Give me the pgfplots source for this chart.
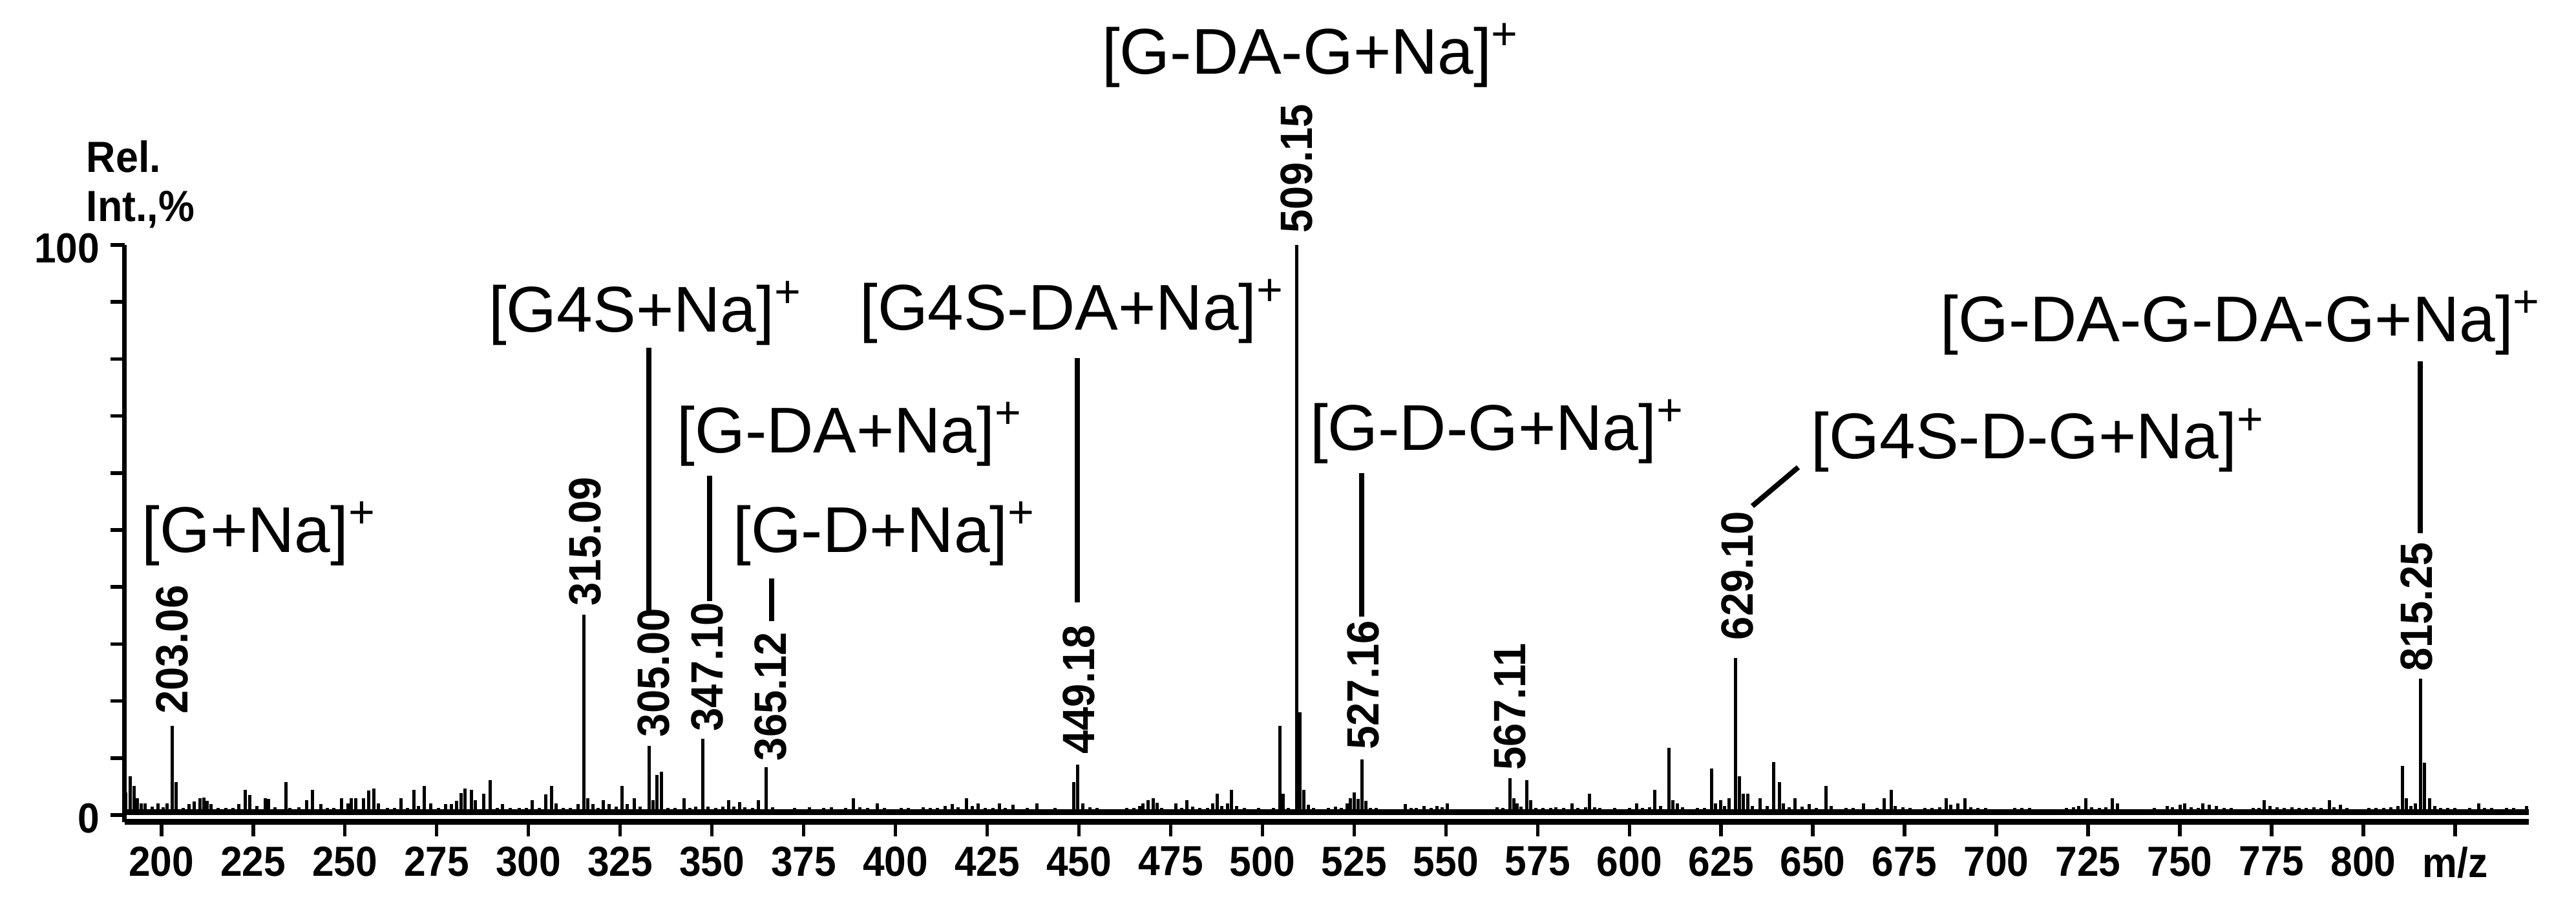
\documentclass[border=0pt]{standalone}
\usepackage{fontspec}
\setmainfont{Liberation Sans}
\newfontfamily\tickfont[FakeStretch=0.93]{Liberation Sans}
\usepackage{pgfplots}
\usepackage{pgfplotstable}
\pgfplotsset{compat=1.18}
\pgfplotstableread{
mz h
190.3 4.0
191.5 6.8
192.6 5.1
193.5 2.9
194.5 2.0
195.5 2.0
197.5 1.5
199 2.0
200.5 1.4
201.5 2.0
202.9 15.7
204 5.8
206 1.3
207.5 1.9
209 2.4
210.5 2.9
211.5 3.1
212.5 2.5
213.5 1.9
215.5 1.2
217.5 1.2
219.5 1.3
221 1.9
222.9 4.4
224 3.5
226 1.6
228.3 2.9
229.2 2.8
231 1.4
233.9 5.8
235 1.3
237.5 1.4
239.6 2.6
241.2 4.4
243.4 1.9
245.2 1.3
247 1.2
249.1 2.9
250.8 2.0
251.8 2.9
253 2.9
255 2.9
256.4 4.3
257.8 4.7
259.2 2.0
261.5 1.2
263.5 1.2
265.2 2.9
267 1.3
268.8 4.4
270 1.6
271.6 5.1
273.3 2.0
275.5 1.2
277.5 1.9
279 1.9
280.5 2.5
281.7 3.9
282.8 4.7
284.5 4.4
285.6 2.6
287.9 3.7
289.6 6.1
291.5 1.3
293 1.9
295 1.2
297.5 1.2
299.5 1.2
301.1 2.6
303 1.2
304.7 3.6
306.4 5.1
307.5 2.0
309.5 1.2
311.5 1.2
313.5 1.9
315.2 35.2
316.2 2.9
317.5 1.9
319 1.3
320.4 2.6
322 1.9
324 1.5
325.5 5.1
327 1.9
328.9 2.9
330.5 1.5
332.9 12.1
334 2.6
335.1 7.0
336.2 7.6
338 1.3
340 1.2
342.4 2.9
344 1.3
345.5 1.5
347.5 13.4
349 1.5
351 1.2
353 1.5
354.5 2.6
356 1.5
357.5 2.3
359 1.4
361 1.2
362.7 2.6
364.8 8.4
366.5 1.4
368.5 1.0
370.5 1.0
372.5 1.2
374.5 1.0
376.5 1.4
378.5 1.0
380.5 1.2
382.5 1.4
384.5 1.0
386.5 1.3
388.6 2.9
390.3 1.4
392.5 1.2
395 2.0
397 1.2
399.5 1.0
401.5 1.2
403.5 1.3
405.5 1.0
407.5 1.4
409.5 1.2
411.5 1.3
413.5 1.6
415.5 1.9
417 1.4
419.3 2.9
421 1.6
422.5 2.0
424.5 1.2
426.5 1.3
428.3 2.0
430 1.2
432 1.8
434 1.0
436 1.2
438.5 2.0
441 1.0
443.5 1.2
446 1.0
448.6 5.8
449.6 8.8
451 2.0
453 1.4
455 1.2
457 0.8
459 1.0
461 1.0
463 1.2
465 1.2
466.5 1.6
467.5 2.0
468.9 2.6
470.3 2.9
471.3 2.2
472.5 1.3
474.5 1.0
476.5 2.0
478 1.2
479.5 2.6
481 1.5
483 1.2
485 1.3
486.5 2.0
487.7 3.7
489 1.6
490.5 2.0
491.6 4.4
493 1.6
495 1.3
497 1.0
499 1.2
501 1.0
503 1.2
504.8 15.6
505.7 3.7
507 1.3
509.3 100
510.2 18
511.2 4.4
512.5 1.8
514 1.2
516 1.0
518 1.2
520 1.5
521.5 1.3
523 2.0
524 2.9
525 4.0
526.1 2.8
527.2 9.7
528.2 2.5
529.5 1.3
531 1.2
533 1.0
535 1.0
537 1.0
539 1.9
540.5 1.2
542 1.2
544 1.6
546 1.2
547.5 1.6
549 1.4
550.4 2.0
552 1.0
554 0.9
556 1.0
558 1.0
560 1.0
562 1.0
564 1.4
565.5 1.2
567.5 6.5
568.5 2.9
569.4 2.0
570.5 1.5
572 6.1
573.1 2.6
574.5 1.3
576.5 1.2
578.5 1.3
580 1.4
582 1.3
584.4 2.0
586 1.2
588 1.4
589.1 3.7
590.5 1.4
592 1.2
594 1.0
596 1.2
598 1.0
600 1.3
602 2.0
603.5 1.2
605.5 1.4
606.9 4.4
608.5 1.6
610.8 11.8
611.9 2.6
613 2.0
614.5 1.4
616.5 1.0
618.5 1.2
620.5 1.3
622.4 8.2
623.5 2.0
624.9 2.6
626 1.6
627.1 2.9
628.9 27.5
630 6.8
631.1 3.7
632.2 3.7
633.5 1.6
635.6 2.9
637.5 1.6
639.3 9.3
640.9 5.8
642 2.0
643.5 1.4
645.1 2.9
647 1.5
649 1.9
651 1.2
653.6 5.1
655 1.6
657 1.0
659 1.2
661 1.2
663.7 2.0
665.5 1.0
667.5 1.2
669.5 2.9
671.3 4.4
672.5 1.6
674.5 1.4
676.5 1.2
678.5 1.0
680.5 1.3
682.5 1.3
684.5 1.4
686.3 2.9
687.5 1.8
689.5 2.0
691.4 2.9
693 1.4
695 1.2
697 1.2
699 1.0
701 1.0
703 1.0
705 1.2
707 1.3
709 1.2
711 1.0
713 1.0
715 0.8
717 1.0
719 1.2
721 1.4
722.5 1.6
724.4 2.9
726 1.4
728 1.2
729.8 1.4
731.5 2.9
733 2.0
735 1.0
737 1.0
739 1.0
741 1.0
743 1.2
745 1.0
746.5 1.6
748 1.4
750 1.8
751.3 2.0
753 1.4
755 1.2
756.3 2.0
758 1.8
760 1.6
762 1.3
764 1.2
766 1.0
768 1.0
770 1.2
771.5 1.2
773 2.6
774.5 1.6
776.5 1.4
778.5 1.2
780.5 1.4
782.5 1.3
784.5 1.3
786.5 1.4
788.5 1.2
790.8 2.6
792 1.4
793.8 1.8
795.5 1.2
797.5 1.0
799.5 1.0
801.5 1.2
803.5 1.2
805.5 1.3
807.5 1.4
809.5 1.6
810.6 8.6
811.7 2.9
813 1.6
814.2 2.0
815.5 23.9
816.6 9.2
818 2.9
819.5 1.6
821 1.3
823 1.2
825 1.3
827 1.0
829 1.3
831.5 2.0
833 1.2
835 1.2
837 1.0
839 1.2
841 1.3
843 1.0
844.5 1.6
}\spectrum
\begin{document}
\begin{tikzpicture}
\useasboundingbox (-38.6pt,-24.3pt) rectangle (758.6pt,254.3pt);
\begin{axis}[
  at={(0pt,0pt)}, anchor=south west,
  scale only axis, width=743.9pt, height=178.5pt,
  xmin=190, xmax=845, ymin=-1.19, ymax=100,
  axis x line=bottom, axis y line=left,
  x axis line style={-, line width=1.8pt},
  y axis line style={-, line width=1.4pt},
  tick align=outside, major tick length=4.4pt,
  tick style={line width=1.1pt, black},
  xtick={200,225,250,275,300,325,350,375,400,425,450,475,500,525,550,575,600,625,650,675,700,725,750,775,800,825},
  xticklabels={200,225,250,275,300,325,350,375,400,425,450,475,500,525,550,575,600,625,650,675,700,725,750,775,800,m/z},
  ytick={0,10,20,30,40,50,60,70,80,90,100},
  yticklabels={0,,,,,,,,,,100},
  tick label style={font=\tickfont\bfseries\fontsize{13}{13}\selectfont},
  xticklabel style={inner sep=0pt, anchor=north, yshift=-3.1pt},
  yticklabel style={inner sep=0pt, anchor=east, xshift=-3.2pt, yshift=-1pt},
  /pgf/number format/assume math mode=true,
  clip=false,
]
\addplot[black, line width=1.8pt, mark=none] coordinates {(190,0.5) (845,0.5)};
\addplot[ycomb, black, line width=1.0pt, mark=none] table[x=mz, y=h] {\spectrum};

% peak labels
\tikzset{pk/.style={rotate=90, anchor=west, inner sep=0pt, font=\tickfont\bfseries\fontsize{14}{14}\selectfont}}
\node[pk] at (axis cs:203,17.6) {203.06};
\node[pk] at (axis cs:315.4,36.6) {315.09};
\node[pk] at (axis cs:334.2,13.6) {305.00};
\node[pk] at (axis cs:348.7,14.6) {347.10};
\node[pk] at (axis cs:366,9.4) {365.12};
\node[pk] at (axis cs:450,10.6) {449.18};
\node[pk] at (axis cs:509.4,102.0) {509.15};
\node[pk] at (axis cs:527.5,11.4) {527.16};
\node[pk] at (axis cs:567.5,7.8) {567.11};
\node[pk] at (axis cs:629.4,30.6) {629.10};
\node[pk] at (axis cs:814.5,25.1) {815.25};

% annotations
\tikzset{an/.style={anchor=base west, inner sep=0pt, font=\fontsize{20}{21}\selectfont}}
\node[an] at (axis cs:194.5,46.1) {[G+Na]\textsuperscript{+}};
\node[an] at (axis cs:289.0,84.8) {[G4S+Na]\textsuperscript{+}};
\node[an] at (axis cs:340.3,63.6) {[G-DA+Na]\textsuperscript{+}};
\node[an] at (axis cs:355.6,46.1) {[G-D+Na]\textsuperscript{+}};
\node[an] at (axis cs:390.1,85.1) {[G4S-DA+Na]\textsuperscript{+}};
\node[an] at (axis cs:456.1,130.0) {[G-DA-G+Na]\textsuperscript{+}};
\node[an] at (axis cs:512.8,64.0) {[G-D-G+Na]\textsuperscript{+}};
\node[an] at (axis cs:649.4,62.5) {[G4S-D-G+Na]\textsuperscript{+}};
\node[an] at (axis cs:684.6,83.1) {[G-DA-G-DA-G+Na]\textsuperscript{+}};

% leader lines
\draw[line width=1.6pt] (axis cs:332.9,82.0) -- (axis cs:332.9,35.0);
\draw[line width=1.6pt] (axis cs:349.3,59.5) -- (axis cs:349.3,37.5);
\draw[line width=1.6pt] (axis cs:366.2,41.5) -- (axis cs:366.2,34.0);
\draw[line width=1.6pt] (axis cs:449.6,80.2) -- (axis cs:449.6,37.3);
\draw[line width=1.6pt] (axis cs:527,60.0) -- (axis cs:527,34.8);
\draw[line width=1.6pt] (axis cs:633.5,54.2) -- (axis cs:646,61.0);
\draw[line width=1.6pt] (axis cs:815.5,79.6) -- (axis cs:815.5,49.4);

% axis title
\node[anchor=base west, inner sep=0pt, font=\tickfont\bfseries\fontsize{13.5}{13.5}\selectfont] at (axis cs:179.4,112.7) {Rel.};
\node[anchor=base west, inner sep=0pt, font=\tickfont\bfseries\fontsize{13.5}{13.5}\selectfont] at (axis cs:179.4,104.1) {Int.,\%};
\end{axis}
\end{tikzpicture}
\end{document}
